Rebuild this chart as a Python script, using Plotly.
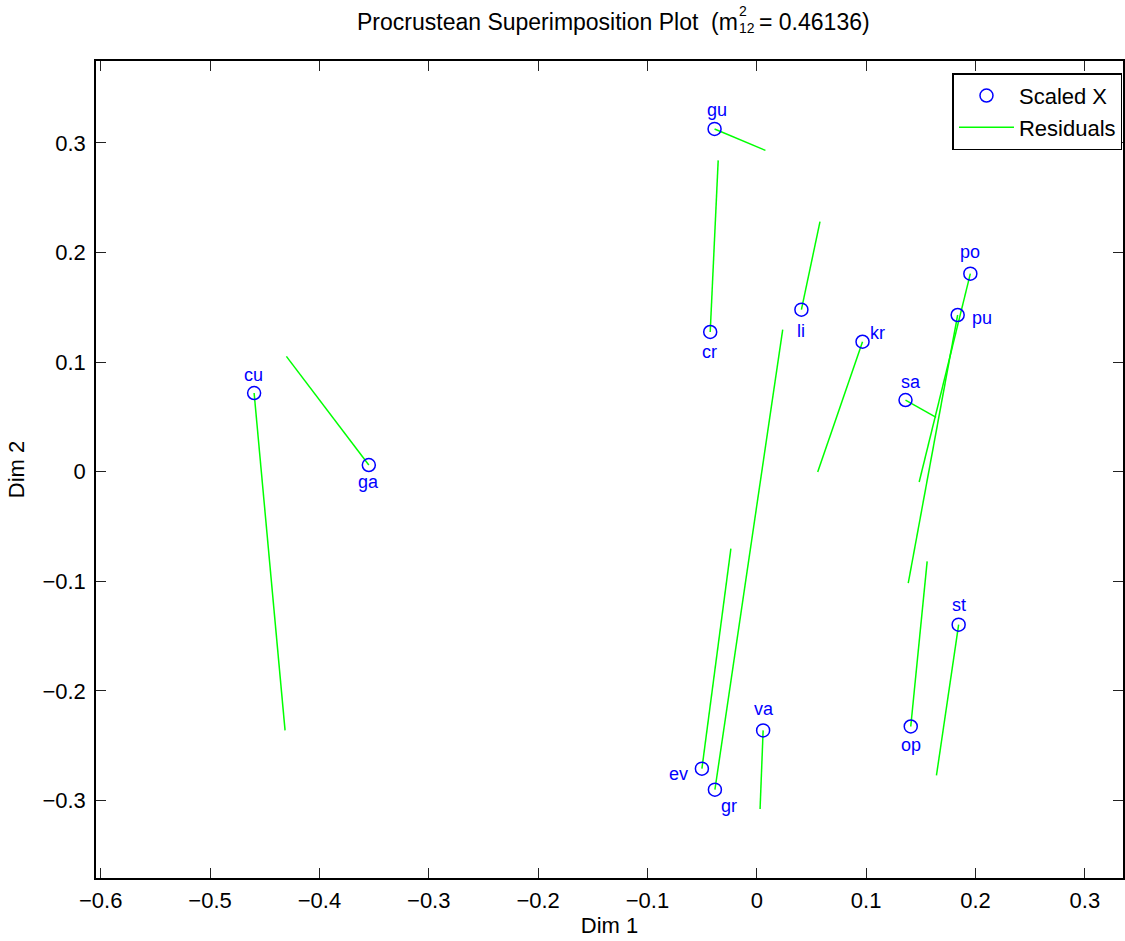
import plotly.graph_objects as go

# ---------------- data ----------------
labels = ["cu", "ga", "gu", "cr", "li", "kr", "po", "pu", "sa", "st", "op", "va", "ev", "gr"]
x_scaled = [-0.4597, -0.3548, -0.0386, -0.0426, 0.0408, 0.0967, 0.1953, 0.1837,
            0.1360, 0.1846, 0.1408, 0.0058, -0.0502, -0.0383]
y_scaled = [0.0718, 0.0061, 0.3128, 0.1275, 0.1479, 0.1186, 0.1807, 0.1430,
            0.0654, -0.1396, -0.2325, -0.2361, -0.2710, -0.2902]
x_target = [-0.4314, -0.4302, 0.0079, -0.0353, 0.0578, 0.0557, 0.1485, 0.1385,
            0.1640, 0.1643, 0.1558, 0.0030, -0.0237, 0.0237]
y_target = [-0.2361, 0.1052, 0.2932, 0.2841, 0.2282, -0.0003, -0.0094, -0.1016,
            0.0496, -0.2772, -0.0819, -0.3078, -0.0703, 0.1296]
m2 = 0.46136

# ---------------- styling ----------------
FONT = "Liberation Sans, Arial, Helvetica, sans-serif"
BLUE = "#0000FF"
GREEN = "#00FF00"
L, T, B = 96, 61, 63          # plot-area margins (px)
PH = 941 - T - B              # plot-area height (px)
PW = 1125 - L                 # plot-area width (px)

# label placement (pixel offsets from the point; dy positive = downwards)
label_offset = {
    "cu": (-1, -18), "ga": (0, 17), "gu": (2, -19), "cr": (-1, 20), "li": (0, 21),
    "kr": (15, -9), "po": (0, -22), "pu": (24, 3), "sa": (5, -18), "st": (0, -20),
    "op": (0, 19), "va": (1, -21), "ev": (-23, 5), "gr": (14, 16),
}

res_x, res_y = [], []
for xs, ys, xt, yt in zip(x_scaled, y_scaled, x_target, y_target):
    res_x += [xs, xt, None]
    res_y += [ys, yt, None]

fig = go.Figure()
fig.add_trace(go.Scatter(
    x=res_x, y=res_y, mode="lines", name="Residuals",
    line=dict(color=GREEN, width=1.5), legendrank=2, hoverinfo="skip"))
fig.add_trace(go.Scatter(
    x=x_scaled, y=y_scaled, mode="markers", name="Scaled X", text=labels,
    marker=dict(symbol="circle-open", size=13, color=BLUE, line=dict(width=1.5, color=BLUE)),
    legendrank=1))

annotations = []
for lab, xs, ys in zip(labels, x_scaled, y_scaled):
    dx, dy = label_offset[lab]
    annotations.append(dict(
        x=xs, y=ys, xref="x", yref="y", text=lab, showarrow=False,
        xshift=dx, yshift=-dy, font=dict(family=FONT, size=18, color=BLUE)))


def px_x(px):
    return (px - L) / PW


def px_y(py):
    return 1 + (T - py) / PH


# title, assembled in pieces so that the superscript sits above the subscript
title_font = dict(family=FONT, size=23, color="black")
small_font = dict(family=FONT, size=14, color="black")
annotations += [
    dict(x=px_x(741), y=px_y(22), xref="paper", yref="paper", xanchor="right", yanchor="middle",
         text="Procrustean Superimposition Plot&nbsp; (m", showarrow=False, font=title_font),
    dict(x=px_x(738), y=px_y(11), xref="paper", yref="paper", xanchor="left", yanchor="middle",
         text="2", showarrow=False, font=small_font),
    dict(x=px_x(738), y=px_y(28), xref="paper", yref="paper", xanchor="left", yanchor="middle",
         text="12", showarrow=False, font=small_font),
    dict(x=px_x(758), y=px_y(22), xref="paper", yref="paper", xanchor="left", yanchor="middle",
         text="= %.5f)" % m2, showarrow=False, font=title_font),
]

axis_common = dict(
    showgrid=False, zeroline=False, showline=True, linecolor="black", linewidth=1.5,
    mirror="ticks", ticks="inside", ticklen=10, tickwidth=1, tickcolor="#222222",
    dtick=0.1, tick0=0, tickfont=dict(family=FONT, size=22, color="black"),
)

fig.update_layout(
    width=1125, height=941,
    margin=dict(l=L, r=0, t=T, b=B),
    paper_bgcolor="white", plot_bgcolor="white",
    showlegend=True,
    legend=dict(x=0.9995, y=0.985, xanchor="right", yanchor="top",
                bgcolor="white", bordercolor="black", borderwidth=1.5,
                font=dict(family=FONT, size=22, color="black"),
                traceorder="normal", tracegroupgap=0, itemwidth=55,
                entrywidth=130, entrywidthmode="pixels"),
    xaxis=dict(range=[-0.6043, 0.3349], title=dict(text="Dim 1", standoff=2,
               font=dict(family=FONT, size=22, color="black")), ticklabelstandoff=2, **axis_common),
    yaxis=dict(range=[-0.3708, 0.3748], title=dict(text="Dim 2", standoff=12,
               font=dict(family=FONT, size=22, color="black")), ticklabelstandoff=4, **axis_common),
    annotations=annotations,
)

fig.write_html("out.html")
